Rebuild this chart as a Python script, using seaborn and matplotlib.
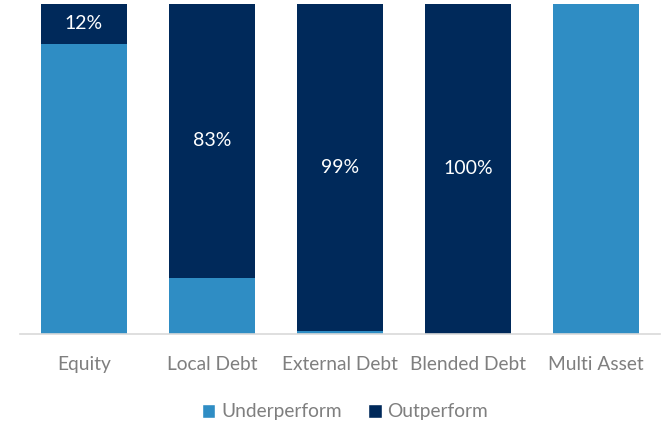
import matplotlib
matplotlib.use("Agg")
import matplotlib.pyplot as plt
from matplotlib.patches import Patch
import seaborn as sns
import pandas as pd

categories = ["Equity", "Local Debt", "External Debt", "Blended Debt", "Multi Asset"]
underperform = [88, 17, 1, 0, 100]
outperform = [12, 83, 99, 100, 0]

light_blue = "#2F8DC4"
navy = "#00295A"
grey = "#7F7F7F"

sns.set_theme(style="white")
plt.rcParams["font.family"] = ["Lato", "DejaVu Sans"]

df = pd.DataFrame({
    "category": categories,
    "under": underperform,
    "total": [u + o for u, o in zip(underperform, outperform)],
})

fig = plt.figure(figsize=(6.64, 4.25), dpi=100)
ax = fig.add_axes([20 / 664, 91 / 425, 640 / 664, 330 / 425])

sns.barplot(data=df, x="category", y="total", color=navy, width=0.665,
            saturation=1, linewidth=0, ax=ax)
sns.barplot(data=df, x="category", y="under", color=light_blue, width=0.665,
            saturation=1, linewidth=0, ax=ax)

for i, (u, o) in enumerate(zip(underperform, outperform)):
    if o > 0:
        ax.text(i, u + o / 2, f"{o}%", ha="center", va="center",
                color="white", fontsize=14)

ax.set_ylim(0, 100)
ax.set_xlim(-0.5, len(categories) - 0.5)
ax.set_xlabel("")
ax.set_ylabel("")
ax.set_yticks([])
ax.tick_params(axis="x", length=0, colors=grey, labelsize=13.8, pad=16)
for side in ["top", "left", "right"]:
    ax.spines[side].set_visible(False)
ax.spines["bottom"].set_color("#D9D9D9")
ax.spines["bottom"].set_linewidth(1.2)

handles = [Patch(facecolor=light_blue, label="Underperform"),
           Patch(facecolor=navy, label="Outperform")]
leg = fig.legend(handles=handles, loc="center", ncol=2, frameon=False,
                 fontsize=13.8, handlelength=0.7, handleheight=0.7,
                 handletextpad=0.3, columnspacing=1.4,
                 bbox_to_anchor=(345 / 664, (425 - 412) / 425),
                 bbox_transform=fig.transFigure)
for t in leg.get_texts():
    t.set_color(grey)

fig.savefig("out.png", dpi=100)
